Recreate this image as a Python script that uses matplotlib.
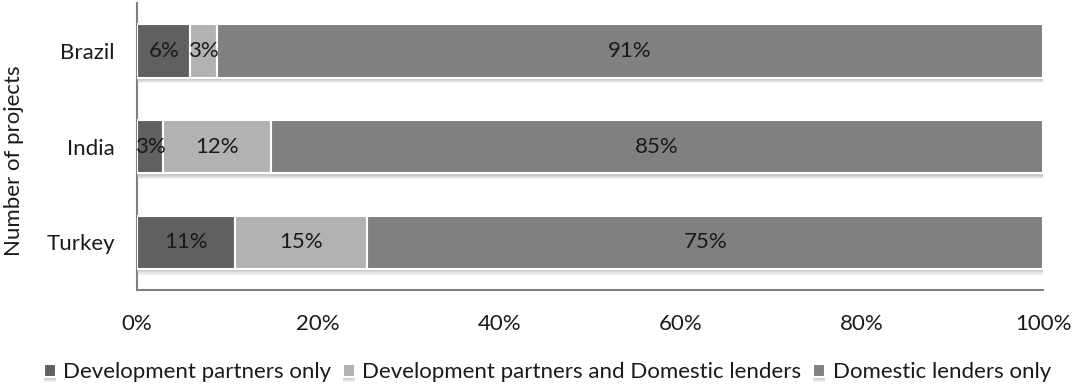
import matplotlib
matplotlib.use("Agg")
import matplotlib.pyplot as plt
import matplotlib.patheffects as pe
import numpy as np

plt.rcParams['font.family'] = ['Lato', 'DejaVu Sans']

countries = ["Brazil", "India", "Turkey"]
series_names = ["Development partners only",
                "Development partners and Domestic lenders",
                "Domestic lenders only"]
dev_only = [5.9, 2.9, 10.8]
dev_and_domestic = [2.9, 11.9, 14.6]
domestic_only = [91.2, 85.2, 74.6]
colors = ["#606060", "#b2b2b2", "#808080"]
xticks = [0, 20, 40, 60, 80, 100]

fig = plt.figure(figsize=(10.73, 3.90), dpi=100)
ax = fig.add_axes([0.1277, 0.256, 0.8445, 0.736])

y = np.arange(len(countries))
left = np.zeros(len(countries))
# soft drop shadow under each bar segment
shadow = [pe.SimplePatchShadow(offset=(0, -o), shadow_rgbFace="#b0b0b0", alpha=a)
          for o, a in [(4.0, 0.15), (3.2, 0.2), (2.4, 0.25), (1.6, 0.3)]] + [pe.Normal()]
for vals, name, col in zip([dev_only, dev_and_domestic, domestic_only], series_names, colors):
    bars = ax.barh(y, vals, left=left, height=0.56, color=col, edgecolor="white",
                   linewidth=1.5, label=name, zorder=3)
    for b in bars:
        b.set_path_effects(shadow)
    for yi, l, v in zip(y, left, vals):
        ax.text(l + v / 2, yi, f"{v:.0f}%", ha="center", va="center",
                fontsize=16, color="#1a1a1a", zorder=4)
    left = left + np.array(vals)

ax.set_xlim(0, 100)
ax.set_ylim(2.5, -0.5)
ax.set_yticks(y)
ax.set_yticklabels(countries)
ax.set_xticks(xticks)
ax.set_xticklabels([f"{t}%" for t in xticks])
ax.tick_params(axis="both", length=0, labelsize=16, colors="#1a1a1a")
ax.tick_params(axis="x", pad=17)
ax.tick_params(axis="y", pad=16)
for s in ["top", "right"]:
    ax.spines[s].set_visible(False)
for s in ["left", "bottom"]:
    ax.spines[s].set_color("#808080")
    ax.spines[s].set_linewidth(1.5)
ax.set_ylabel("Number of projects", fontsize=16, color="#1a1a1a")
ax.yaxis.set_label_coords(-0.125, 0.45)

fig.legend(loc="center", bbox_to_anchor=(0.51, 0.046), ncol=3, frameon=False,
           fontsize=16, handlelength=0.54, handleheight=0.54, handletextpad=0.35,
           columnspacing=0.5, labelcolor="#1a1a1a", borderaxespad=0, borderpad=0)

fig.savefig("out.png", dpi=100)
